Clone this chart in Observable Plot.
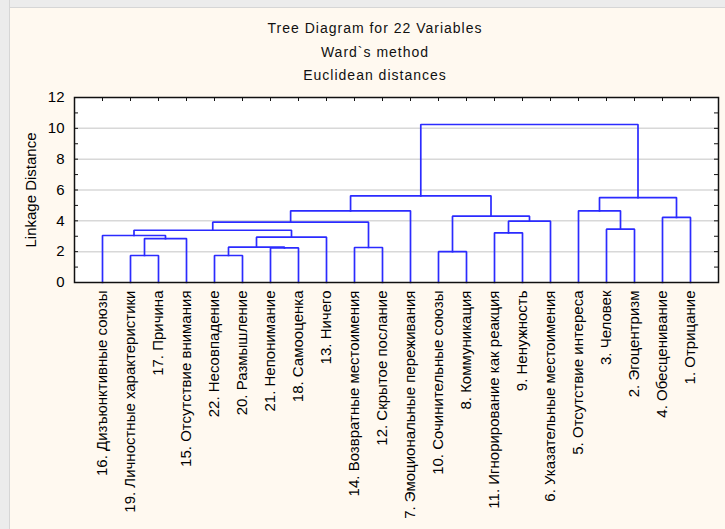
<!DOCTYPE html>
<html>
<head>
<meta charset="utf-8">
<script src="https://cdn.jsdelivr.net/npm/d3@7"></script>
<script src="https://cdn.jsdelivr.net/npm/@observablehq/plot@0.6"></script>
<style>
html, body { margin: 0; padding: 0; background: #FFF9F0; }
#wrap { position: relative; width: 725px; height: 529px; overflow: hidden; font-family: "Liberation Sans", Arial, sans-serif; }
.strip-left { position: absolute; left: 0; top: 0; width: 9px; height: 529px; background: #ECECEC; border-right: 1px solid #D6D6D6; }
.strip-top { position: absolute; left: 0; top: 0; width: 725px; height: 7px; background: #ECECEC; border-bottom: 1px solid #D6D6D6; }
.t { position: absolute; left: 0; width: 750px; text-align: center; font-size: 14px; color: #111; letter-spacing: 1px; line-height: 16px; }
#chart { position: absolute; left: 0; top: 88px; }
</style>
</head>
<body>
<div id="wrap">
  <div class="strip-top"></div>
  <div class="strip-left"></div>
  <div class="t" style="top:20px">Tree Diagram for 22 Variables</div>
  <div class="t" style="top:44px">Ward`s method</div>
  <div class="t" style="top:67px">Euclidean distances</div>
  <div id="chart"></div>
</div>
<script>
// Leaf labels in dendrogram order (left to right)
const labels = [
  "16. Дизъюнктивные союзы",
  "19. Личностные характеристики",
  "17. Причина",
  "15. Отсутствие внимания",
  "22. Несовпадение",
  "20. Размышление",
  "21. Непонимание",
  "18. Самооценка",
  "13. Ничего",
  "14. Возвратные местоимения",
  "12. Скрытое послание",
  "7. Эмоциональные переживания",
  "10. Сочинительные союзы",
  "8. Коммуникация",
  "11. Игнорирование как реакция",
  "9. Ненужность",
  "6. Указательные местоимения",
  "5. Отсутствие интереса",
  "3. Человек",
  "2. Эгоцентризм",
  "4. Обесценивание",
  "1. Отрицание"
];

// Merges: ids < 22 are leaves (by order position), ids >= 22 are earlier merges (22 + merge index)
const mergeLeft   = [1, 4, 12, 6, 9, 23, 22, 27, 0, 14, 30, 18, 32, 31, 20, 24, 34, 17, 39, 38, 41];
const mergeRight  = [2, 5, 13, 7, 10, 25, 3, 8, 28, 15, 29, 19, 26, 16, 21, 35, 11, 33, 36, 37, 40];
const mergeHeight = [1.75, 1.75, 2.0, 2.24, 2.27, 2.29, 2.85, 2.94, 3.05, 3.22, 3.39, 3.46, 3.91, 3.98, 4.22, 4.30, 4.65, 4.65, 5.51, 5.62, 10.25];

const yTickLabels = [0, 2, 4, 6, 8, 10, 12];
const yGrid = [2, 4, 6, 8, 10];
const yMinorTicks = d3.range(0, 13);

// Build dendrogram paths from the merge table
const n = labels.length;
const leafPos = labels.map((_, i) => i + 1);
const pos = leafPos.slice();
const hgt = labels.map(() => 0);
const rows = [];
mergeHeight.forEach((h, k) => {
  const a = mergeLeft[k], b = mergeRight[k];
  rows.push({k, x: pos[a], y: hgt[a]});
  rows.push({k, x: pos[a], y: h});
  rows.push({k, x: pos[b], y: h});
  rows.push({k, x: pos[b], y: hgt[b]});
  pos.push((pos[a] + pos[b]) / 2);
  hgt.push(h);
});

const W = 725, H = 441;
const mL = 74, mR = 7, mT = 9, mB = 247;
const fw = W - mL - mR, fh = H - mT - mB;
const tick = 4;

const chart = Plot.plot({
  width: W,
  height: H,
  marginLeft: mL,
  marginRight: mR,
  marginTop: mT,
  marginBottom: mB,
  x: {domain: [0, n + 1], axis: null},
  y: {domain: [0, 12], axis: null},
  style: {fontFamily: "'Liberation Sans', Arial, sans-serif", background: "transparent", overflow: "visible", color: "#111"},
  marks: [
    Plot.frame({fill: "white", stroke: null}),
    Plot.gridY(yGrid, {stroke: "#d8d8d8", strokeOpacity: 1, strokeWidth: 1.5}),
    Plot.line(rows, {x: "x", y: "y", z: "k", stroke: "#2B2BFF", strokeWidth: 1.7, strokeLinejoin: "miter", strokeLinecap: "square"}),
    Plot.tickY(yMinorTicks, {y: d => d, stroke: "#111", insetRight: fw - tick}),
    Plot.tickY(yMinorTicks, {y: d => d, stroke: "#111", insetLeft: fw - tick}),
    Plot.tickX(leafPos, {x: d => d, stroke: "#111", insetBottom: fh - tick}),
    Plot.axisY({ticks: yTickLabels, tickSize: 0, tickPadding: 10, fontSize: 15, fill: "#000", label: null}),
    Plot.axisX({ticks: leafPos, tickFormat: i => labels[i - 1], tickRotate: -90, tickSize: 0, tickPadding: 8, fontSize: 15, fill: "#000", label: null}),
    Plot.text(["Linkage Distance"], {frameAnchor: "left", dx: -43, rotate: -90, textAnchor: "middle", fontSize: 15, fill: "#000"}),
    Plot.frame({stroke: "#111", strokeWidth: 1.5})
  ]
});
document.getElementById("chart").appendChild(chart);
</script>
</body>
</html>
